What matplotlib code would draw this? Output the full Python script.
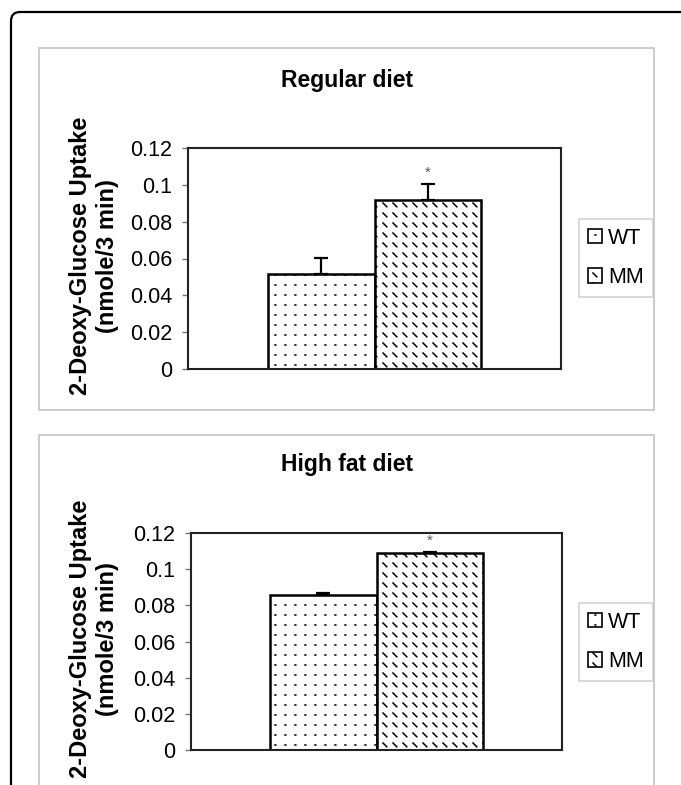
import warnings
import matplotlib
matplotlib.use("Agg")
import matplotlib.pyplot as plt
import matplotlib.hatch as mhatch
from matplotlib.path import Path
from matplotlib.patches import Rectangle, FancyBboxPatch
from matplotlib.transforms import IdentityTransform

warnings.filterwarnings("ignore")

# data
panels = ["Regular diet", "High fat diet"]
groups = ["WT", "MM"]
regular_means = [0.0516, 0.0917]
regular_err = [0.0087, 0.0087]
highfat_means = [0.0859, 0.1088]
highfat_err = [0.0009, 0.0009]
yticks = [0, 0.02, 0.04, 0.06, 0.08, 0.1, 0.12]
ytick_labels = ["0", "0.02", "0.04", "0.06", "0.08", "0.1", "0.12"]
ylabel = "2-Deoxy-Glucose Uptake\n(nmole/3 min)"


# custom hatches: 'd' = short diagonal dashes, 'p' = grid of points
class DashHatch(mhatch.HatchPatternBase):
    def __init__(self, hatch, density):
        self.n = int(hatch.count("d") * density * 10 / 6)
        self.num_vertices = self.n * self.n * 2

    def set_vertices_and_codes(self, vertices, codes):
        s = 1.0 / self.n
        k = 0
        for i in range(self.n):
            for j in range(self.n):
                x0, y0 = (j + 0.3) * s, (i + 0.7) * s
                vertices[k] = (x0, y0)
                vertices[k + 1] = (x0 + 0.38 * s, y0 - 0.38 * s)
                codes[k] = Path.MOVETO
                codes[k + 1] = Path.LINETO
                k += 2


class PointHatch(mhatch.HatchPatternBase):
    def __init__(self, hatch, density):
        self.n = int(hatch.count("p") * density * 10 / 6)
        self.num_vertices = self.n * self.n * 2

    def set_vertices_and_codes(self, vertices, codes):
        s = 1.0 / self.n
        k = 0
        for i in range(self.n):
            for j in range(self.n):
                x0, y0 = (j + 0.5) * s, (i + 0.5) * s
                vertices[k] = (x0, y0)
                vertices[k + 1] = (x0 + 0.08 * s, y0)
                codes[k] = Path.MOVETO
                codes[k + 1] = Path.LINETO
                k += 2


mhatch._hatch_types.append(DashHatch)
mhatch._hatch_types.append(PointHatch)

plt.rcParams["font.family"] = ["Liberation Sans", "DejaVu Sans"]
plt.rcParams["hatch.color"] = "#3a3a3a"
plt.rcParams["hatch.linewidth"] = 1.1

W, H = 681, 785
fig = plt.figure(figsize=(W / 100, H / 100), dpi=100)

# outer rounded frame
fig.patches.append(FancyBboxPatch((11, -40), 720, H - 12 + 40,
                                  boxstyle="round,pad=0,rounding_size=9",
                                  transform=IdentityTransform(),
                                  fill=False, ec="black", lw=1.6))

hatches = ["p", "d"]
data = [(regular_means, regular_err), (highfat_means, highfat_err)]
# panel layout in pixels: (panel top, panel bottom, axes left, axes right, axes top, axes bottom, title y, legend y0, legend y1, ylabel y)
layout = [(48, 410, 188, 561, 148, 369, 80, 217, 299, 256),
          (435, 800, 191, 562, 533, 750, 465, 602, 682, 639)]
bw = 0.286

for p, (title, (means, errs), lay) in enumerate(zip(panels, data, layout)):
    ptop, pbot, al, ar, at, ab, ty, ly0, ly1, yly = lay
    fig.patches.append(Rectangle((39 / W, 1 - pbot / H), (654 - 39) / W, (pbot - ptop) / H,
                                 transform=fig.transFigure, fill=False,
                                 ec="#c8c8c8", lw=1.3))
    ax = fig.add_axes([al / W, 1 - ab / H, (ar - al) / W, (ab - at) / H])
    xs = [0.5 - bw / 2, 0.5 + bw / 2]
    for x, m, e, h in zip(xs, means, errs, hatches):
        ax.bar(x, m, width=bw, color="white", edgecolor="black", lw=1.8,
               hatch=h, zorder=2)
        ax.errorbar(x, m, yerr=[[0], [e]], fmt="none", ecolor="black",
                    elinewidth=1.6, capsize=4.8, capthick=1.6, zorder=3)
    ax.text(xs[1], means[1] + errs[1] + 0.006, "*", ha="center", va="center",
            fontsize=11, color="#555555")
    ax.set_xlim(0, 1)
    ax.set_ylim(0, 0.12)
    ax.set_xticks([])
    ax.set_yticks(yticks)
    ax.set_yticklabels(ytick_labels)
    ax.tick_params(axis="y", length=4.5, width=1.0, pad=7, labelsize=15.5,
                   colors="#777777", labelcolor="black")
    for sp in ax.spines.values():
        sp.set_linewidth(1.5)
        sp.set_color("#222222")
    fig.text(347 / W, 1 - ty / H, title, ha="center", va="center",
             fontsize=16.5, fontweight="bold")
    fig.text(94 / W, 1 - yly / H, ylabel, rotation=90,
             ha="center", va="center", multialignment="center",
             fontsize=17, fontweight="bold", linespacing=1.25)
    handles = [Rectangle((0, 0), 1, 1, fc="white", ec="black", lw=1.2, hatch=h)
               for h in hatches]
    leg = fig.legend(handles, groups, loc="center left",
                     bbox_to_anchor=(579 / W, 1 - (ly0 + ly1) / 2 / H),
                     fontsize=15.5, frameon=True, fancybox=False,
                     handlelength=0.65, handleheight=0.65, handletextpad=0.28,
                     borderpad=0.42, labelspacing=0.85, borderaxespad=0)
    leg.get_frame().set_edgecolor("#c8c8c8")
    leg.get_frame().set_linewidth(1.2)

fig.savefig("out.png", dpi=100)
